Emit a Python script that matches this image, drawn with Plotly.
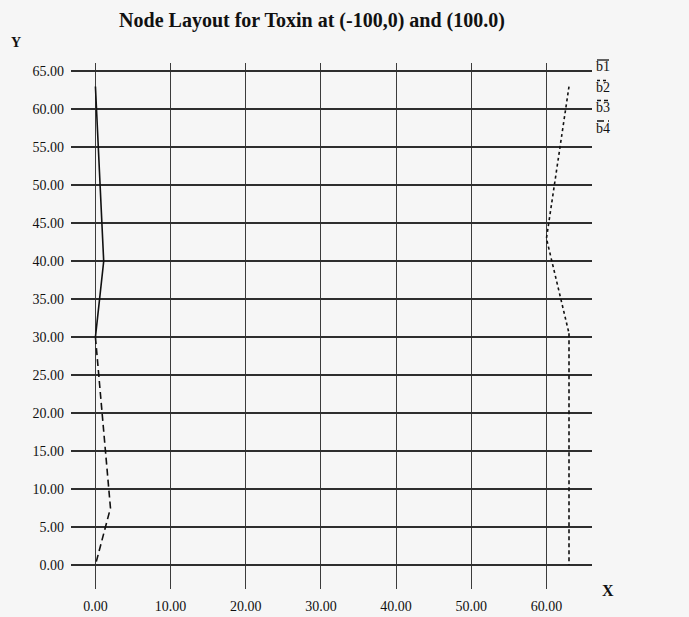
import plotly.graph_objects as go

# Node paths (x, y) for each branch
b1_x = [0.0, 1.1, 0.0]
b1_y = [63.0, 40.0, 30.0]
b2_x = [63.0, 60.0, 63.0]
b2_y = [63.0, 43.0, 30.5]
b3_x = [63.0, 63.0]
b3_y = [30.5, 0.0]
b4_x = [0.0, 2.0, 0.0]
b4_y = [30.0, 7.5, 0.0]

series_names = ["b1", "b2", "b3", "b4"]
series_dash = ["solid", "dot", "4px,3px", "7px,4px"]

x_ticks = [0, 10, 20, 30, 40, 50, 60]
y_ticks = [0, 5, 10, 15, 20, 25, 30, 35, 40, 45, 50, 55, 60, 65]

title_text = "Node Layout for Toxin at (-100,0) and (100.0)"

W, H = 689, 617
L, R, T, B = 71, 97, 63, 28
INK = "#111111"
FONT = "Liberation Serif, Times New Roman, serif"

fig = go.Figure()
paths = [(b1_x, b1_y), (b2_x, b2_y), (b3_x, b3_y), (b4_x, b4_y)]
for name, dash, (xs, ys) in zip(series_names, series_dash, paths):
    fig.add_trace(go.Scatter(
        x=xs, y=ys, mode="lines", name=name,
        line=dict(color=INK, width=1.6, dash=dash),
        showlegend=False, hoverinfo="skip",
    ))

pw = W - L - R
ph = H - T - B


def px_x(px):
    return (px - L) / pw


def px_y(py):
    return (H - B - py) / ph


# Hand-made legend: label with a short line sample drawn above it
legend_y = [67, 87.5, 107.5, 128]
shapes = []
annotations = []
for name, dash, ly in zip(series_names, series_dash, legend_y):
    annotations.append(dict(
        x=px_x(603), y=px_y(ly), xref="paper", yref="paper",
        text=name, showarrow=False, xanchor="center", yanchor="middle",
        font=dict(family=FONT, size=14, color=INK),
    ))
    shapes.append(dict(
        type="line", xref="paper", yref="paper",
        x0=px_x(597), x1=px_x(609), y0=px_y(ly - 7), y1=px_y(ly - 7),
        line=dict(color=INK, width=1.3, dash=dash),
    ))

annotations.append(dict(
    x=px_x(16), y=px_y(43), xref="paper", yref="paper", text="<b>Y</b>",
    showarrow=False, xanchor="center", yanchor="middle",
    font=dict(family=FONT, size=14, color=INK),
))
annotations.append(dict(
    x=px_x(608), y=px_y(590), xref="paper", yref="paper", text="<b>X</b>",
    showarrow=False, xanchor="center", yanchor="middle",
    font=dict(family=FONT, size=16, color=INK),
))

fig.update_layout(
    width=W, height=H,
    margin=dict(l=L, r=R, t=T, b=B, pad=0, autoexpand=False),
    paper_bgcolor="#f6f6f6", plot_bgcolor="#f6f6f6",
    title=dict(
        text="<b>" + title_text + "</b>",
        x=(312) / W, xanchor="center", xref="container",
        y=1 - 20 / H, yanchor="middle", yref="container",
        font=dict(family=FONT, size=20, color=INK),
    ),
    xaxis=dict(
        range=[-3.25, 66.06], tickvals=x_ticks,
        ticktext=[f"{v:.2f}" for v in x_ticks],
        showgrid=True, gridcolor="#3c3c3c", gridwidth=1.2,
        zeroline=False, showline=False, ticks="", automargin=False,
        tickfont=dict(family=FONT, size=14, color=INK),
        ticklabelstandoff=7,
    ),
    yaxis=dict(
        range=[-3.16, 66.1], tickvals=y_ticks,
        ticktext=[f"{v:.2f}" for v in y_ticks],
        showgrid=True, gridcolor="#2e2e2e", gridwidth=2,
        zeroline=False, showline=False, ticks="", automargin=False,
        tickfont=dict(family=FONT, size=14, color=INK),
        ticklabelstandoff=6,
    ),
    shapes=shapes,
    annotations=annotations,
    showlegend=False,
)

fig.write_html("out.html")
